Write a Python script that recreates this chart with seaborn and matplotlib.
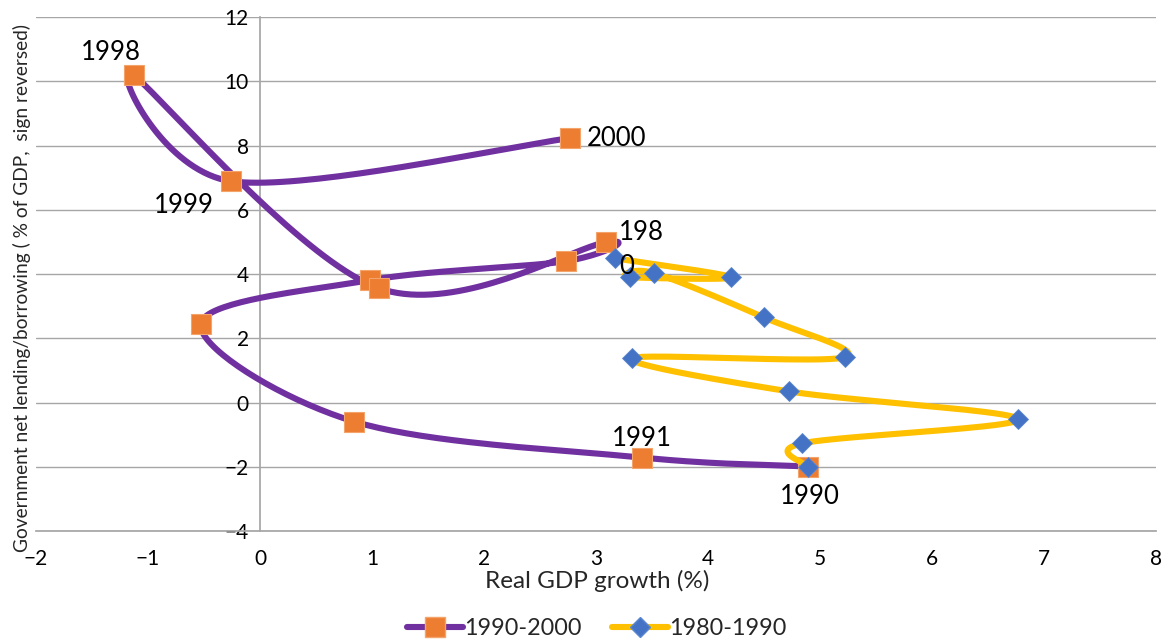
import numpy as np
import pandas as pd
import matplotlib
matplotlib.use("Agg")
import matplotlib.pyplot as plt
import seaborn as sns
from matplotlib.lines import Line2D

# Real GDP growth (%) and government net lending/borrowing (% of GDP, sign reversed)
years_90s = [1990, 1991, 1992, 1993, 1994, 1995, 1996, 1997, 1998, 1999, 2000]
growth_90s = [4.89, 3.41, 0.84, -0.53, 0.98, 2.73, 3.09, 1.06, -1.13, -0.26, 2.77]
balance_90s = [-1.99, -1.71, -0.59, 2.44, 3.81, 4.40, 4.99, 3.56, 10.19, 6.89, 8.23]

years_80s = [1980, 1981, 1982, 1983, 1984, 1985, 1986, 1987, 1988, 1989, 1990]
growth_80s = [3.17, 4.21, 3.30, 3.52, 4.50, 5.22, 3.32, 4.72, 6.77, 4.84, 4.89]
balance_80s = [4.49, 3.90, 3.90, 4.03, 2.65, 1.41, 1.38, 0.35, -0.52, -1.27, -1.99]

# Which points carry a year label, and the label text
labels_90s = {1990: "1990", 1991: "1991", 1998: "1998", 1999: "1999", 2000: "2000"}
labels_80s = {1980: "198\n0"}

PURPLE = "#7030A0"
ORANGE = "#ED7D31"
YELLOW = "#FFC000"
BLUE = "#4472C4"
GRID = "#A6A6A6"
LW = 4.4


def smooth_curve(xs, ys, n=40):
    """Cubic Bezier smoothing through every point (Catmull-Rom style tangents)."""
    pts = np.column_stack([xs, ys]).astype(float)
    ext = np.vstack([pts[0], pts, pts[-1]])
    t = np.linspace(0, 1, n)[:, None]
    segs = []
    for i in range(len(pts) - 1):
        p0, p1, p2, p3 = ext[i], ext[i + 1], ext[i + 2], ext[i + 3]
        c1 = p1 + (p2 - p0) / 6.0
        c2 = p2 - (p3 - p1) / 6.0
        seg = ((1 - t) ** 3) * p1 + 3 * ((1 - t) ** 2) * t * c1 + 3 * (1 - t) * t ** 2 * c2 + t ** 3 * p2
        segs.append(seg if i == 0 else seg[1:])
    curve = np.vstack(segs)
    return pd.DataFrame({"x": curve[:, 0], "y": curve[:, 1]})


sns.set_theme(style="white")
plt.rcParams["font.family"] = ["Lato", "DejaVu Sans"]

fig = plt.figure(figsize=(11.64, 6.43), dpi=100)
ax = fig.add_axes([0.031, 0.174, 0.962, 0.7996])

df90 = pd.DataFrame({"year": years_90s, "x": growth_90s, "y": balance_90s})
df80 = pd.DataFrame({"year": years_80s, "x": growth_80s, "y": balance_80s})

# 1990-2000: purple smoothed line with orange squares
c90 = smooth_curve(df90["x"], df90["y"])
sns.lineplot(data=c90, x="x", y="y", sort=False, estimator=None, color=PURPLE,
             linewidth=LW, ax=ax, zorder=3)
ax.plot(df90["x"], df90["y"], linestyle="none", marker="s", markersize=14,
        markerfacecolor=ORANGE, markeredgecolor="#F4A46A", markeredgewidth=0.8, zorder=4)

# 1980-1990: yellow smoothed line with blue diamonds
c80 = smooth_curve(df80["x"], df80["y"])
sns.lineplot(data=c80, x="x", y="y", sort=False, estimator=None, color=YELLOW,
             linewidth=LW, ax=ax, zorder=5)
ax.plot(df80["x"], df80["y"], linestyle="none", marker="D", markersize=10,
        markerfacecolor=BLUE, markeredgecolor="#5B87D0", markeredgewidth=0.6, zorder=6)

# Year labels
offsets = {1998: (-23, 23, "center", "center"),
           1999: (-47, -24, "center", "center"),
           2000: (17, 0, "left", "center"),
           1991: (0, 19, "center", "center"),
           1990: (2, -30, "center", "center")}
for yr, txt in labels_90s.items():
    row = df90[df90["year"] == yr].iloc[0]
    dx, dy, ha, va = offsets[yr]
    ax.annotate(txt, (row["x"], row["y"]), xytext=(dx, dy), textcoords="offset pixels",
                ha=ha, va=va, fontsize=18.5, color="black", zorder=7)
for yr, txt in labels_80s.items():
    row = df80[df80["year"] == yr].iloc[0]
    ax.annotate(txt, (row["x"], row["y"]), xytext=(4, 9), textcoords="offset pixels",
                ha="left", va="center", fontsize=18.5, color="black", linespacing=1.45, zorder=7)

# Axes, grid and spines
ax.set_xlim(-2, 8)
ax.set_ylim(-4, 12)
ax.set_xticks(range(-2, 9))
ax.set_yticks(range(-4, 13, 2))
ax.yaxis.grid(True, color=GRID, linewidth=1)
ax.xaxis.grid(False)
ax.set_axisbelow(True)
ax.spines["left"].set_position(("data", 0))
ax.spines["left"].set_color(GRID)
ax.spines["bottom"].set_color(GRID)
ax.spines["top"].set_visible(False)
ax.spines["right"].set_visible(False)
ax.tick_params(axis="both", length=0, labelsize=15, colors="black")
ax.tick_params(axis="x", pad=13)
ax.tick_params(axis="y", pad=8)
ax.set_xlabel("")
ax.set_ylabel("")

fig.text(0.513, 0.097, "Real GDP growth (%)", ha="center", va="center", fontsize=17.5)
fig.text(0.019, 0.552, "Government net lending/borrowing ( % of GDP,  sign reversed)",
         rotation=90, ha="center", va="center", fontsize=13.8)

handles = [
    Line2D([0], [0], color=PURPLE, linewidth=LW, marker="s", markersize=14,
           markerfacecolor=ORANGE, markeredgecolor="#F4A46A"),
    Line2D([0], [0], color=YELLOW, linewidth=LW, marker="D", markersize=10,
           markerfacecolor=BLUE, markeredgecolor="#5B87D0"),
]
fig.legend(handles, ["1990-2000", "1980-1990"], loc="center", bbox_to_anchor=(0.513, 0.022),
           ncol=2, frameon=False, fontsize=16.8, handlelength=2.4, handletextpad=0.05,
           columnspacing=1.3)

fig.savefig("out.png", dpi=100)
